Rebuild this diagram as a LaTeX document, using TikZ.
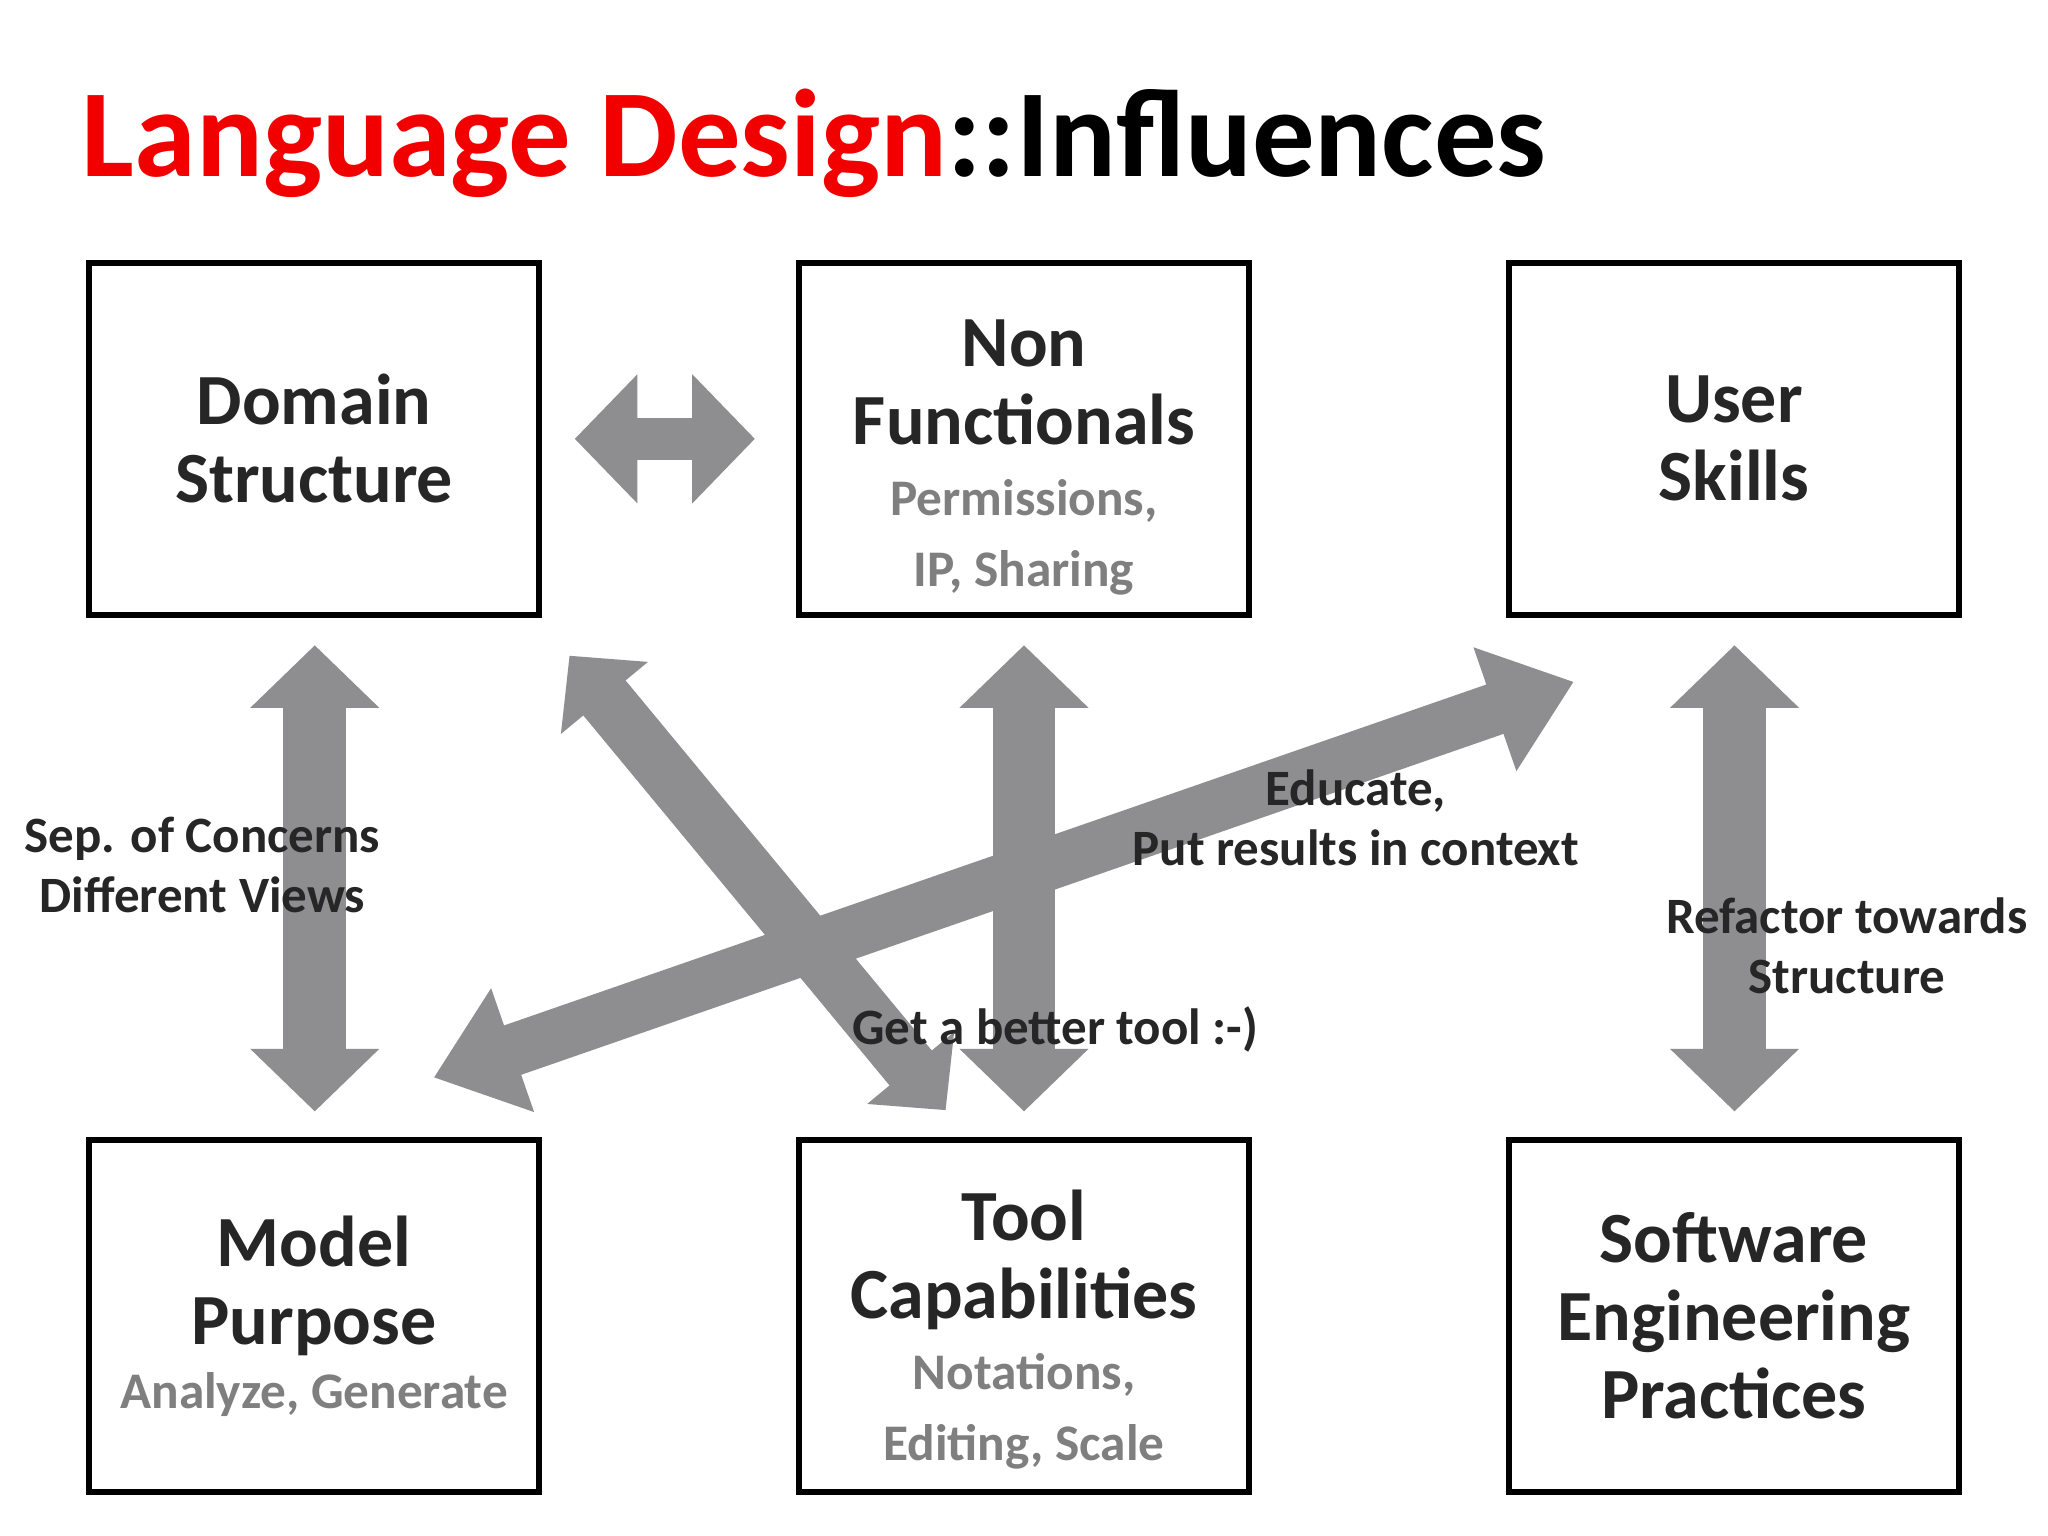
\documentclass[tikz,border=0pt]{standalone}
\usepackage{fontspec}
\setmainfont{Carlito}
\usetikzlibrary{arrows.meta}
\definecolor{arrgray}{HTML}{8E8D90}
\definecolor{subgray}{HTML}{7F7F7F}
\definecolor{ttlred}{HTML}{F20000}
\definecolor{txt}{HTML}{262626}
\newcommand{\subtxt}[1]{{\bfseries\fontsize{14.6}{17.8}\selectfont\color{subgray}#1}}
\begin{document}
\begin{tikzpicture}[x=0.0130612cm,y=-0.0130612cm,
  box/.style={draw=black,line width=1.9pt,minimum width=4.5cm,minimum height=3.52cm,inner sep=0pt,align=center,text=txt,font=\bfseries\fontsize{20.5}{22.2}\selectfont},
  boxtext/.style={inner sep=0pt,align=center,text=txt,font=\bfseries\fontsize{20.5}{22.2}\selectfont},
  lbl/.style={align=center,text=txt,font=\bfseries\fontsize{14.5}{17}\selectfont},
  darr/.style={draw=arrgray,line width=#1*0.0130612cm,{Triangle[length=0pt 1,width=0pt 2]}-{Triangle[length=0pt 1,width=0pt 2]}},
  darr/.default=48]
\useasboundingbox (0,0) rectangle (1568,1176);
\fill[white] (0,0) rectangle (1568,1176);
\node[anchor=base west,inner sep=0pt,font=\bfseries\fontsize{35.5}{40}\selectfont] (title) at (62,135) {\textcolor{ttlred}{Language Design}::Influences};
\node[box] (dom) at (240.5,336) {Domain\\Structure};
\node[box] (nf) at (784,336) {};
\node[boxtext] (nftext) at (784,350) {Non\\Functionals\\[-2pt]\subtxt{Permissions,}\\[-2pt]\subtxt{IP, Sharing}};
\node[box] (usr) at (1327.5,336) {User\\Skills};
\node[box] (mod) at (240.5,1007.5) {Model\\Purpose\\[-4pt]\subtxt{Analyze, Generate}};
\node[box] (tool) at (784,1007.5) {};
\node[boxtext] (tooltext) at (784,1018) {Tool\\Capabilities\\[-2pt]\subtxt{Notations,}\\[-2pt]\subtxt{Editing, Scale}};
\node[box] (sep) at (1327.5,1007.5) {Software\\Engineering\\Practices};
% arrow end points
\coordinate (h1) at (440,336); \coordinate (h2) at (578,336);
\coordinate (v1a) at (241,494); \coordinate (v1b) at (241,851);
\coordinate (v2a) at (784,494); \coordinate (v2b) at (784,851);
\coordinate (v3a) at (1328,494); \coordinate (v3b) at (1328,851);
\coordinate (d1a) at (332,825); \coordinate (d1b) at (1205,522);
\coordinate (d2a) at (436,502); \coordinate (d2b) at (724,850);
\draw[draw=arrgray,line width=32*0.0130612cm,{Triangle[length=0pt 1.5,width=0pt 3]}-{Triangle[length=0pt 1.5,width=0pt 3]}] (h1) -- (h2);
\draw[darr] (v1a) -- (v1b);
\draw[darr] (v2a) -- (v2b);
\draw[darr] (v3a) -- (v3b);
\draw[darr=42] (d2a) -- (d2b);
\draw[darr=40,{Triangle[length=0pt 1.6,width=0pt 2.4]}-{Triangle[length=0pt 1.6,width=0pt 2.4]}] (d1a) -- (d1b);
\node[lbl] (l1) at (155,662) {Sep. of Concerns\\Different Views};
\node[lbl] (l2) at (1038,626) {Educate,\\Put results in context};
\node[lbl] (l3) at (1414,724) {Refactor towards\\Structure};
\node[lbl] (l4) at (808,788) {Get a better tool :-)};
\end{tikzpicture}
\end{document}
